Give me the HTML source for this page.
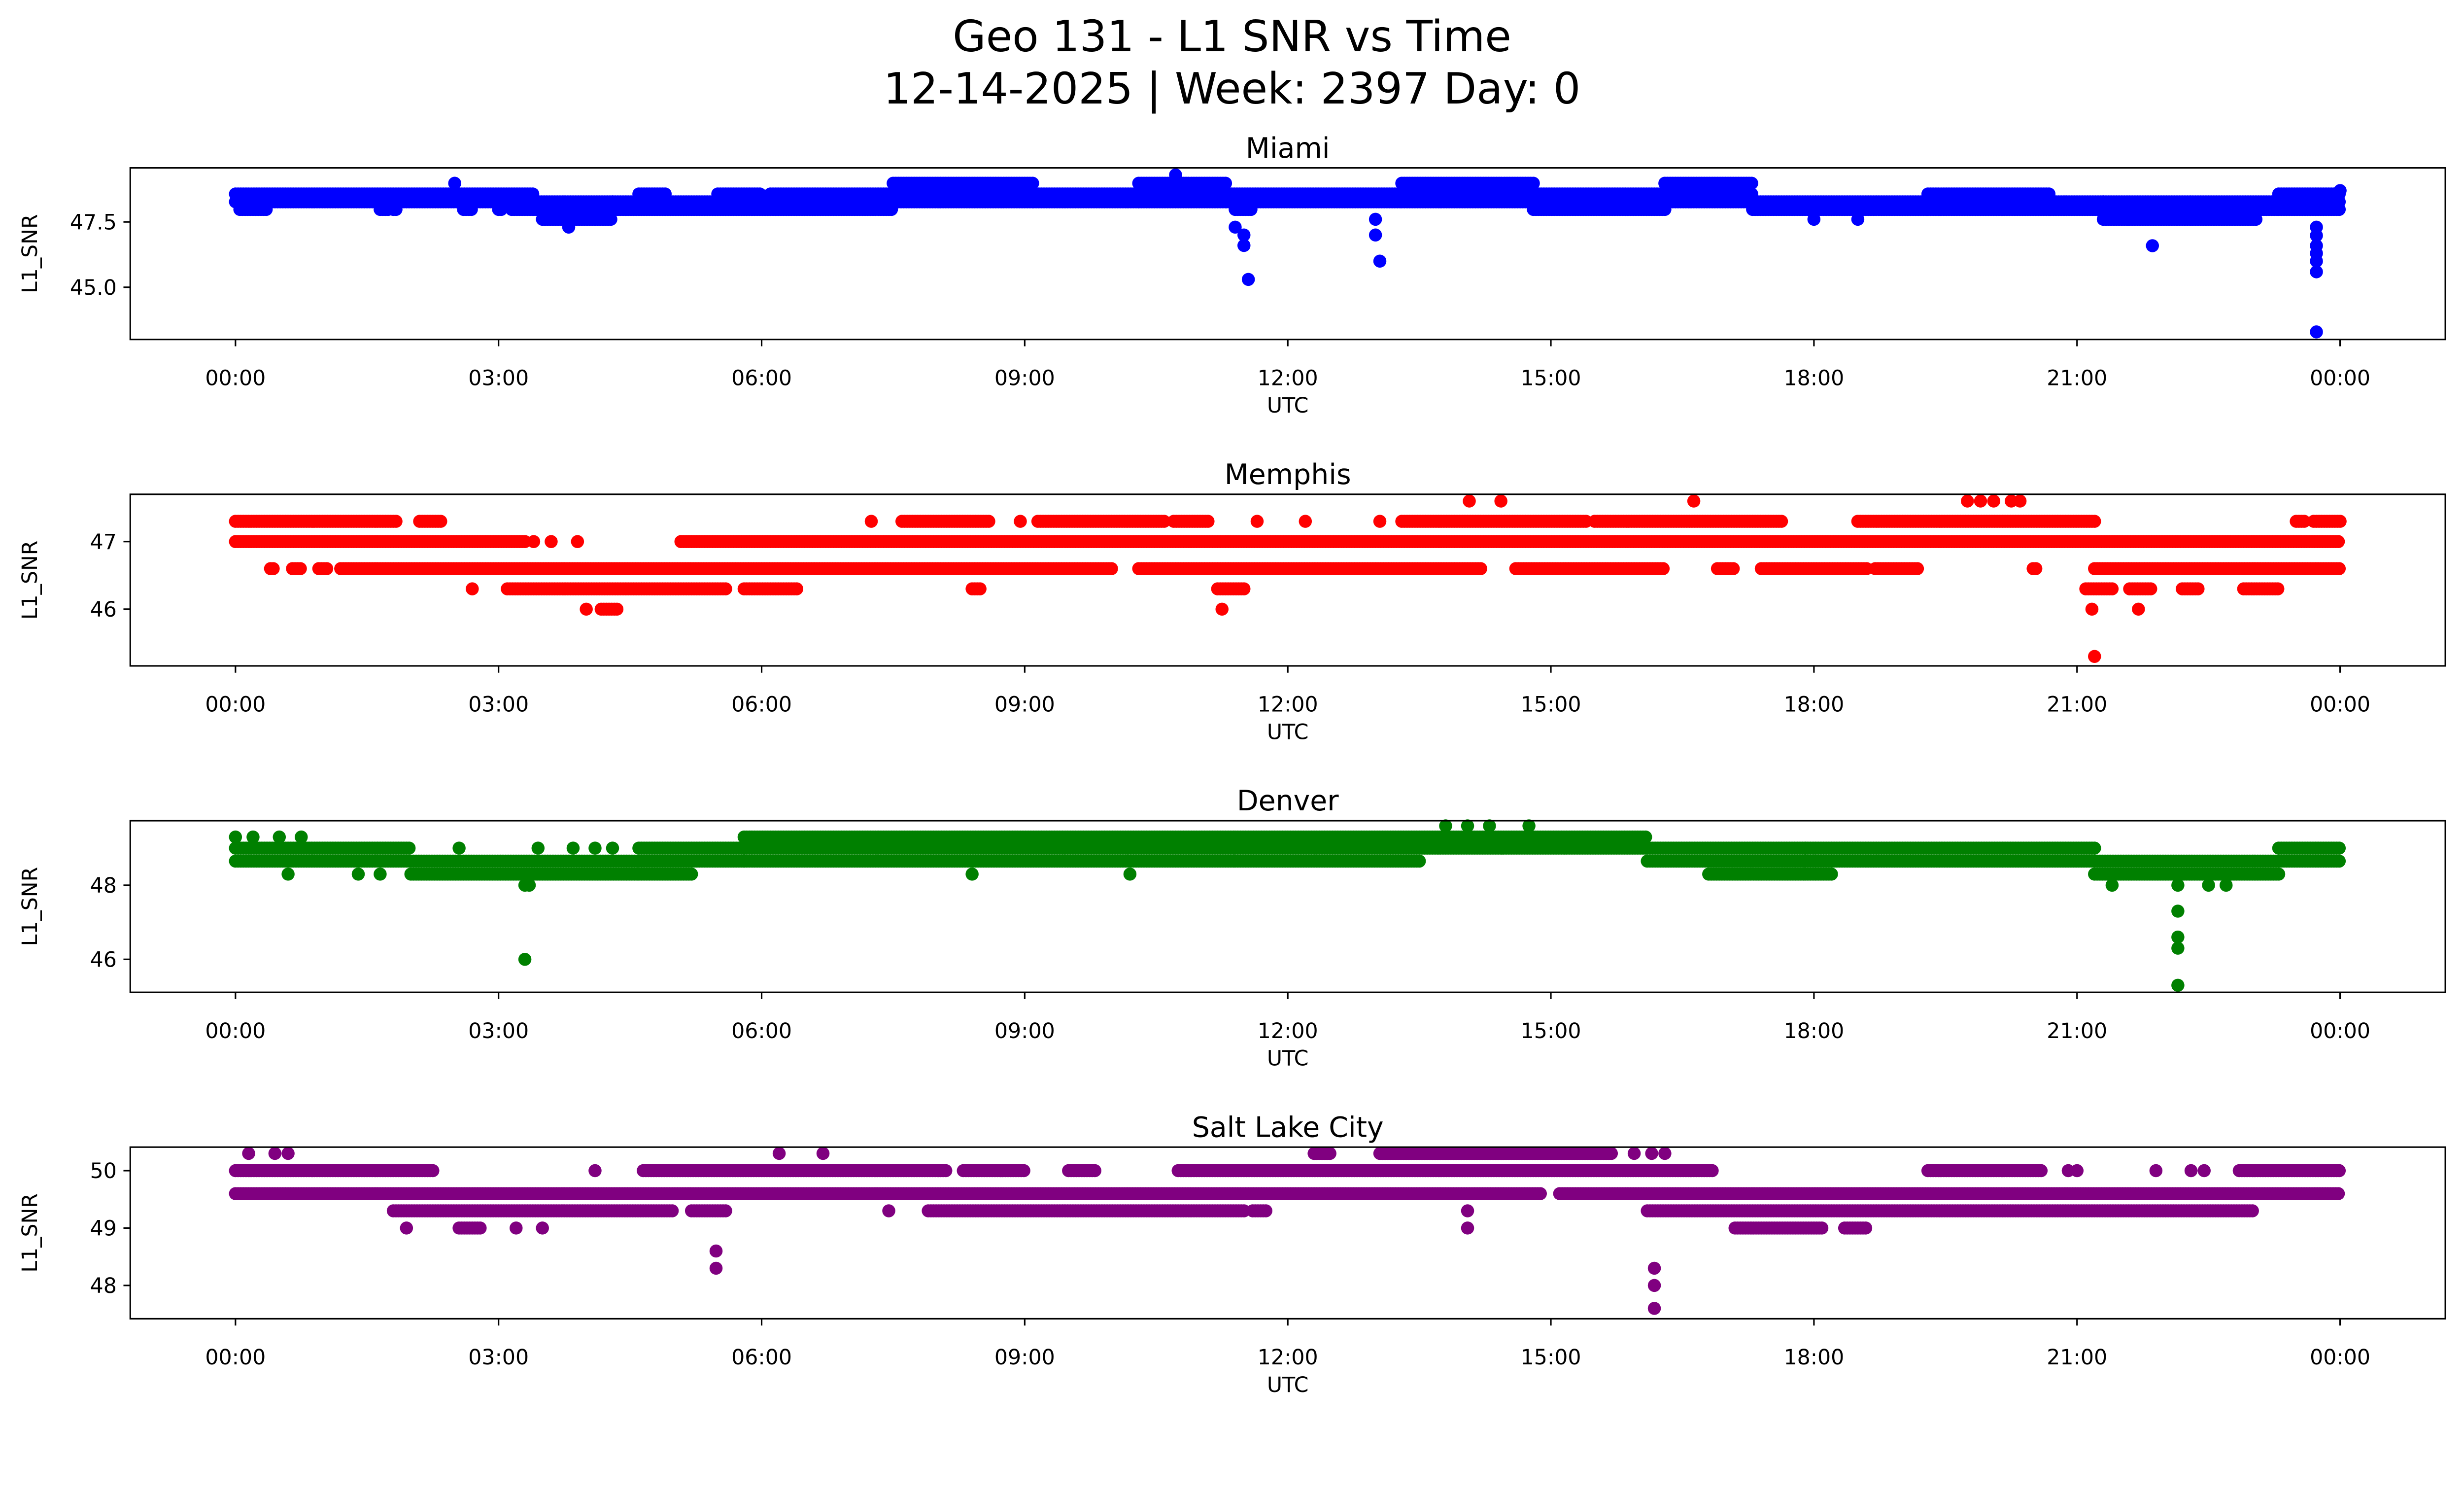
<!DOCTYPE html>
<html><head><meta charset="utf-8"><style>
html,body{margin:0;padding:0;background:#fff;overflow:hidden;width:100vw;height:100vh;}
svg{display:block;width:100vw;height:100vh;font-family:"DejaVu Sans","Liberation Sans",sans-serif;}
</style></head><body>
<svg id="fig" viewBox="0 0 5278 3206" preserveAspectRatio="none" xmlns="http://www.w3.org/2000/svg">
<rect width="5278" height="3206" fill="#fff"/>
<text x="2639" y="110" font-size="92" text-anchor="middle">Geo 131 - L1 SNR vs Time</text>
<text x="2639" y="222" font-size="92" text-anchor="middle">12-14-2025 | Week: 2397 Day: 0</text>
</svg>
<script>
const xTickHours = [0,3,6,9,12,15,18,21,24];
const xTickLabels = ["00:00","03:00","06:00","09:00","12:00","15:00","18:00","21:00","00:00"];
const panelNames = ["Miami","Memphis","Denver","Salt Lake City"];
const panelColors = ["#0000ff","#ff0000","#008000","#800080"];
const miamiYTicks = [45.0, 47.5];
const memphisYTicks = [46, 47];
const denverYTicks = [46, 48];
const slcYTicks = [48, 49, 50];
const miamiYRange = [43.0, 49.57];
const memphisYRange = [45.16, 47.70];
const denverYRange = [45.11, 49.74];
const slcYRange = [47.42, 50.41];
// bands: [startHour, endHour, value]
const miamiBands = [
[0,3.4,48.57],[0,3.4,48.27],[0.05,0.35,47.98],[1.65,1.75,47.98],[1.8,1.85,47.98],[2.6,2.7,47.98],[3.0,3.05,47.98],[3.15,3.4,47.98],
[3.4,4.3,48.27],[3.4,4.3,47.98],[3.5,4.3,47.6],
[4.3,7.5,48.27],[4.3,7.5,47.98],[4.6,4.9,48.57],[5.5,6.0,48.57],[6.1,7.5,48.57],
[7.5,9.1,48.98],[7.5,9.1,48.57],[7.5,9.1,48.27],
[9.1,10.3,48.57],[9.1,10.3,48.27],
[10.3,11.3,48.98],[10.3,11.3,48.57],[10.3,11.3,48.27],
[11.3,13.3,48.57],[11.3,13.3,48.27],[11.4,11.6,47.98],
[13.3,14.8,48.98],[13.3,14.8,48.57],[13.3,14.8,48.27],
[14.8,16.3,48.57],[14.8,16.3,48.27],[14.8,16.3,47.98],
[16.3,17.3,48.98],[16.3,17.3,48.57],[16.3,17.3,48.27],
[17.3,19.3,48.27],[17.3,19.3,47.98],
[19.3,20.7,48.57],[19.3,20.7,48.27],[19.3,20.7,47.98],
[20.7,21.3,48.27],[20.7,21.3,47.98],
[21.3,23.3,48.27],[21.3,23.3,47.98],[21.3,23.05,47.6],
[23.3,24,48.57],[23.3,24,48.27],[23.3,24,47.98]
];
const miamiPoints = [[2.5,48.98],[3.8,47.3],[10.72,49.3],[11.4,47.3],[11.5,47.0],[11.5,46.6],[11.55,45.3],[13.0,47.6],[13.0,47.0],[13.05,46.0],[18.0,47.6],[18.5,47.6],[21.86,46.59],[23.73,47.3],[23.73,46.98],[23.73,46.59],[23.73,46.3],[23.73,46.0],[23.73,45.59],[23.73,43.29],[24,48.7]];
const memphisBands = [
[0,1.85,47.3],[2.1,2.35,47.3],[7.6,8.6,47.3],[9.15,10.6,47.3],[10.7,11.1,47.3],[13.3,15.4,47.3],[15.5,17.65,47.3],[18.5,21.2,47.3],[23.5,23.6,47.3],[23.7,24,47.3],
[0,3.3,47.0],[5.08,24,47.0],
[0.4,0.45,46.6],[0.65,0.75,46.6],[0.95,1.05,46.6],[1.2,10.0,46.6],[10.3,14.2,46.6],[14.6,16.3,46.6],[16.9,17.1,46.6],[17.4,18.6,46.6],[18.7,19.2,46.6],[20.5,20.55,46.6],[21.2,24,46.6],
[3.1,5.6,46.3],[5.8,6.4,46.3],[8.4,8.5,46.3],[11.2,11.5,46.3],[21.1,21.4,46.3],[21.6,21.85,46.3],[22.2,22.4,46.3],[22.9,23.3,46.3],
[4.17,4.35,46.0]
];
const memphisPoints = [[2.7,46.3],[3.4,47.0],[3.6,47.0],[3.9,47.0],[7.25,47.3],[8.95,47.3],[11.65,47.3],[12.2,47.3],[13.05,47.3],[4.0,46.0],[11.25,46.0],[21.17,46.0],[21.7,46.0],[14.07,47.6],[14.43,47.6],[16.63,47.6],[19.75,47.6],[19.9,47.6],[20.05,47.6],[20.25,47.6],[20.35,47.6],[21.2,45.3]];
const denverBands = [
[0,2.0,49.0],[0,2.0,48.65],[2.0,4.6,48.65],[2.0,4.6,48.3],
[4.6,5.8,49.0],[4.6,5.8,48.65],[4.6,5.2,48.3],
[5.8,11.4,49.3],[5.8,11.4,49.0],[5.8,11.4,48.65],
[11.4,16.1,49.3],[11.4,16.1,49.0],[11.4,13.5,48.65],
[16.1,17.9,49.0],[16.1,17.9,48.65],[16.8,17.9,48.3],
[17.9,21.2,49.0],[17.9,21.2,48.65],[17.9,18.2,48.3],
[21.2,23.3,48.65],[21.2,23.3,48.3],
[23.3,24,49.0],[23.3,24,48.65]
];
const denverPoints = [[0,49.3],[0.2,49.3],[0.5,49.3],[0.75,49.3],[0.6,48.3],[1.4,48.3],[1.65,48.3],[2.55,49.0],[3.3,48.0],[3.35,48.0],[3.3,46.0],[3.45,49.0],[3.85,49.0],[4.1,49.0],[4.3,49.0],[8.4,48.3],[10.2,48.3],[13.8,49.6],[14.05,49.6],[14.3,49.6],[14.75,49.6],[21.4,48.0],[22.15,48.0],[22.15,47.3],[22.15,46.6],[22.15,46.3],[22.15,45.3],[22.5,48.0],[22.7,48.0]];
const slcBands = [
[0,2.25,50.0],[4.65,8.1,50.0],[8.3,9.0,50.0],[9.5,9.8,50.0],[10.75,16.85,50.0],[19.3,20.6,50.0],[22.85,24,50.0],
[13.05,15.7,50.3],[12.3,12.5,50.3],
[0,14.9,49.6],[15.1,24,49.6],
[1.8,5.0,49.3],[5.2,5.6,49.3],[7.9,11.5,49.3],[11.6,11.75,49.3],[16.1,23.0,49.3],
[2.55,2.8,49.0],[17.1,18.1,49.0],[18.35,18.6,49.0]
];
const slcPoints = [[0.15,50.3],[0.45,50.3],[0.6,50.3],[6.2,50.3],[6.7,50.3],[4.1,50.0],[20.9,50.0],[21.0,50.0],[21.9,50.0],[22.3,50.0],[22.45,50.0],[15.95,50.3],[16.15,50.3],[16.3,50.3],[1.95,49.0],[3.2,49.0],[3.5,49.0],[14.05,49.0],[14.05,49.3],[5.48,48.6],[5.48,48.3],[16.18,48.3],[16.18,48.0],[16.18,47.6],[7.45,49.3]];

const NS="http://www.w3.org/2000/svg";
const svg=document.getElementById('fig');
const AX_L=279, AX_R=5238, AX_H=368;
const panelTops=[360,1060,1760,2460];
const HMIN=-1.2, HMAX=25.2;
function xScale(h){return AX_L+(h-HMIN)/(HMAX-HMIN)*(AX_R-AX_L);}
function mk(tag,attrs){const e=document.createElementNS(NS,tag);for(const k in attrs)e.setAttribute(k,attrs[k]);return e;}
const panelData=[
 [miamiBands,miamiPoints,miamiYTicks,miamiYRange,v=>v.toFixed(1)],
 [memphisBands,memphisPoints,memphisYTicks,memphisYRange,v=>String(v)],
 [denverBands,denverPoints,denverYTicks,denverYRange,v=>String(v)],
 [slcBands,slcPoints,slcYTicks,slcYRange,v=>String(v)]
];
panelData.forEach((pd,i)=>{
 const [bands,pts,yt,yr,fmt]=pd;
 const top=panelTops[i], bot=top+AX_H;
 const yScale=v=>bot-(v-yr[0])/(yr[1]-yr[0])*AX_H;
 const g=mk('g',{});
 
 
 svg.appendChild(g);
 const t=mk('text',{x:(AX_L+AX_R)/2,y:top-22,'font-size':60,'text-anchor':'middle'});
 
 
 t.textContent=panelNames[i];g.appendChild(t);
 const pg=mk('g',{fill:panelColors[i]});
 
 
 g.appendChild(pg);
 const addDot=(h,v)=>{const c=mk('circle',{cx:xScale(h).toFixed(1),cy:yScale(v).toFixed(1),r:14});
  
  
  pg.appendChild(c);};
 bands.forEach(b=>{for(let h=b[0];h<=b[1]+1e-9;h+=0.03)addDot(h,b[2]);});
 pts.forEach(p=>addDot(p[0],p[1]));
 const fr=mk('rect',{x:AX_L,y:top,width:AX_R-AX_L,height:AX_H,fill:'none',stroke:'#000','stroke-width':3.3});
 
 
 g.appendChild(fr);
 xTickHours.forEach((h,k)=>{
  const x=xScale(h);
  const l=mk('line',{x1:x,x2:x,y1:bot,y2:bot+14.6,stroke:'#000','stroke-width':3.3});
  
  
  g.appendChild(l);
  const tx=mk('text',{x:x,y:bot+98,'font-size':45,'text-anchor':'middle'});
  
  
  tx.textContent=xTickLabels[k];g.appendChild(tx);
 });
 yt.forEach(v=>{
  const y=yScale(v);
  const l=mk('line',{x1:AX_L-14.6,x2:AX_L,y1:y,y2:y,stroke:'#000','stroke-width':3.3});
  
  
  g.appendChild(l);
  const ty=mk('text',{x:AX_L-29,y:y+16,'font-size':45,'text-anchor':'end'});
  
  
  ty.textContent=fmt(v);g.appendChild(ty);
 });
 const xl=mk('text',{x:(AX_L+AX_R)/2,y:bot+157,'font-size':45,'text-anchor':'middle'});
 
 
 xl.textContent='UTC';g.appendChild(xl);
 const yl=mk('text',{x:0,y:0,'font-size':45,'text-anchor':'middle',transform:`translate(79,${top+AX_H/2}) rotate(-90)`});
 
 
 yl.textContent='L1_SNR';g.appendChild(yl);
});
</script>
</body></html>
